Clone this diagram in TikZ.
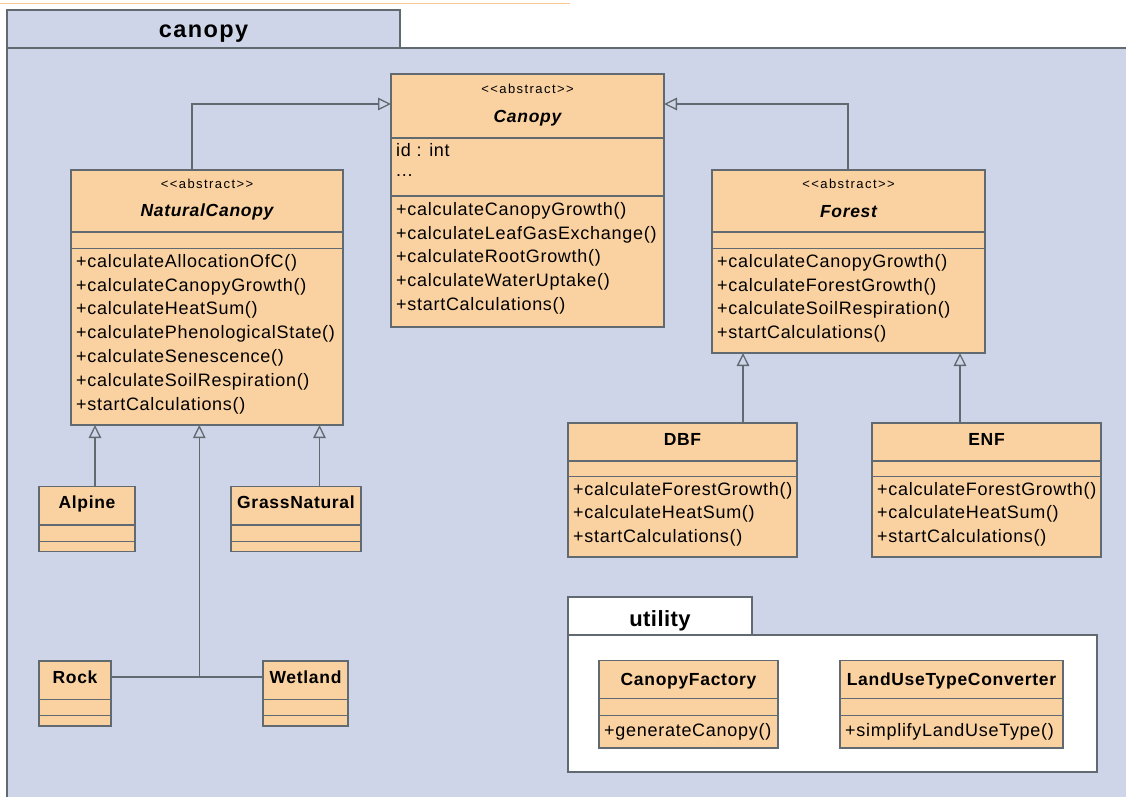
\documentclass[tikz,border=0pt]{standalone}
\usepackage{fontspec}
\setmainfont{Liberation Sans}
\newfontfamily\methfont[LetterSpace=4]{Liberation Sans}
\newfontfamily\stereofont[LetterSpace=11,Ligatures=TeXOff]{Liberation Sans}
\newfontfamily\bigtitlefont[LetterSpace=6]{Liberation Sans}
\newfontfamily\smalltitlefont[LetterSpace=2]{Liberation Sans}
\usetikzlibrary{arrows.meta}
\definecolor{pkgbg}{RGB}{207,213,232}
\definecolor{clsfill}{RGB}{250,209,160}
\definecolor{edgec}{RGB}{96,106,112}
\definecolor{topline}{RGB}{248,200,150}
\begin{document}
\begin{tikzpicture}[x=1pt,y=-1pt,
  cls/.style={draw=edgec, fill=clsfill, line width=1.3pt, outer sep=0pt, inner sep=0pt, anchor=north west},
  pkg/.style={draw=edgec, line width=1.3pt},
  div/.style={draw=edgec, line width=1.3pt},
  meth/.style={anchor=base west, inner sep=0pt, font=\methfont\fontsize{18}{20}\selectfont},
  cname/.style={anchor=base, inner sep=0pt, font=\methfont\fontsize{17.5}{20}\selectfont\bfseries},
  aname/.style={anchor=base, inner sep=0pt, font=\methfont\fontsize{17.5}{20}\selectfont\bfseries\itshape},
  stereo/.style={anchor=base, inner sep=0pt, font=\stereofont\fontsize{13}{15}\selectfont},
  bigtitle/.style={anchor=base, inner sep=0pt, font=\bigtitlefont\fontsize{23.5}{26}\selectfont\bfseries},
  smalltitle/.style={anchor=base, inner sep=0pt, font=\smalltitlefont\fontsize{22}{24}\selectfont\bfseries},
  gen/.style={draw=edgec, line width=1.3pt, -{Triangle[open, length=13pt, width=12.5pt]}},
  assoc/.style={draw=edgec, line width=1.3pt}
]
\useasboundingbox (0,0) rectangle (1126,796);
\clip (0,0) rectangle (1126,796);
\fill[white] (0,0) rectangle (1126,796);
\draw[topline, line width=1.5pt] (0,3.5) -- (570,3.5);

% ---------- package canopy ----------
\draw[pkg, fill=pkgbg] (7,48) rectangle (1140,810);
\node[pkg, fill=pkgbg, minimum width=393, minimum height=38, anchor=north west, outer sep=0pt, inner sep=0pt] (canopytab) at (7,10) {};
\node[bigtitle] (canopytitle) at ([yshift=-27.5]canopytab.north) {canopy};

% ---------- Canopy ----------
\node[cls, minimum width=273, minimum height=253] (canopy) at (391,74) {};
\draw[div] ([yshift=-64]canopy.north west) -- ([yshift=-64]canopy.north east);
\draw[div] ([yshift=-122]canopy.north west) -- ([yshift=-122]canopy.north east);
\node[stereo] (canopy-st) at ([yshift=-19.3]canopy.north) {<<abstract>>};
\node[aname] (canopy-nm) at ([yshift=-48.7]canopy.north) {Canopy};
\node[meth] (canopy-a1) at ([xshift=5, yshift=-82]canopy.north west) {id : int};
\node[meth] (canopy-a2) at ([xshift=5, yshift=-102]canopy.north west) {...};
\foreach \t [count=\i] in {+calculateCanopyGrowth(),+calculateLeafGasExchange(),+calculateRootGrowth(),+calculateWaterUptake(),+startCalculations()}
  \node[meth] (canopy-m\i) at ([xshift=5, yshift={-141.7-23.6*(\i-1)}]canopy.north west) {\t};

% ---------- NaturalCanopy ----------
\node[cls, minimum width=272, minimum height=255] (natural) at (71,170) {};
\draw[div] ([yshift=-62]natural.north west) -- ([yshift=-62]natural.north east);
\draw[div] ([yshift=-78.7]natural.north west) -- ([yshift=-78.7]natural.north east);
\node[stereo] (natural-st) at ([yshift=-18.3]natural.north) {<<abstract>>};
\node[aname] (natural-nm) at ([yshift=-46.7]natural.north) {NaturalCanopy};
\foreach \t [count=\i] in {+calculateAllocationOfC(),+calculateCanopyGrowth(),+calculateHeatSum(),+calculatePhenologicalState(),+calculateSenescence(),+calculateSoilRespiration(),+startCalculations()}
  \node[meth] (natural-m\i) at ([xshift=5, yshift={-97.3-23.8*(\i-1)}]natural.north west) {\t};

% ---------- Forest ----------
\node[cls, minimum width=273, minimum height=183] (forest) at (712,170) {};
\draw[div] ([yshift=-62]forest.north west) -- ([yshift=-62]forest.north east);
\draw[div] ([yshift=-78.7]forest.north west) -- ([yshift=-78.7]forest.north east);
\node[stereo] (forest-st) at ([yshift=-18.3]forest.north) {<<abstract>>};
\node[aname] (forest-nm) at ([yshift=-47.3]forest.north) {Forest};
\foreach \t [count=\i] in {+calculateCanopyGrowth(),+calculateForestGrowth(),+calculateSoilRespiration(),+startCalculations()}
  \node[meth] (forest-m\i) at ([xshift=5, yshift={-97.3-23.7*(\i-1)}]forest.north west) {\t};

% ---------- DBF / ENF ----------
\node[cls, minimum width=229, minimum height=134] (dbf) at (568,423) {};
\draw[div] ([yshift=-38]dbf.north west) -- ([yshift=-38]dbf.north east);
\draw[div] ([yshift=-53.7]dbf.north west) -- ([yshift=-53.7]dbf.north east);
\node[cname] (dbf-nm) at ([yshift=-22]dbf.north) {DBF};
\foreach \t [count=\i] in {+calculateForestGrowth(),+calculateHeatSum(),+startCalculations()}
  \node[meth] (dbf-m\i) at ([xshift=5, yshift={-72.5-23.3*(\i-1)}]dbf.north west) {\t};

\node[cls, minimum width=229, minimum height=134] (enf) at (872,423) {};
\draw[div] ([yshift=-38]enf.north west) -- ([yshift=-38]enf.north east);
\draw[div] ([yshift=-53.7]enf.north west) -- ([yshift=-53.7]enf.north east);
\node[cname] (enf-nm) at ([yshift=-22]enf.north) {ENF};
\foreach \t [count=\i] in {+calculateForestGrowth(),+calculateHeatSum(),+startCalculations()}
  \node[meth] (enf-m\i) at ([xshift=5, yshift={-72.5-23.3*(\i-1)}]enf.north west) {\t};

% ---------- small classes ----------
\node[cls, minimum width=96, minimum height=65] (alpine) at (39,486.5) {};
\draw[div] ([yshift=-38.5]alpine.north west) -- ([yshift=-38.5]alpine.north east);
\draw[div] ([yshift=-55]alpine.north west) -- ([yshift=-55]alpine.north east);
\node[cname] (alpine-nm) at ([yshift=-21.8]alpine.north) {Alpine};

\node[cls, minimum width=130, minimum height=65] (grass) at (231,486.5) {};
\draw[div] ([yshift=-38.5]grass.north west) -- ([yshift=-38.5]grass.north east);
\draw[div] ([yshift=-55]grass.north west) -- ([yshift=-55]grass.north east);
\node[cname] (grass-nm) at ([yshift=-21.8]grass.north) {GrassNatural};

\node[cls, minimum width=72, minimum height=65] (rock) at (39,661) {};
\draw[div] ([yshift=-38.3]rock.north west) -- ([yshift=-38.3]rock.north east);
\draw[div] ([yshift=-54.3]rock.north west) -- ([yshift=-54.3]rock.north east);
\node[cname] (rock-nm) at ([yshift=-22.3]rock.north) {Rock};

\node[cls, minimum width=85, minimum height=65] (wetland) at (263,661) {};
\draw[div] ([yshift=-38.3]wetland.north west) -- ([yshift=-38.3]wetland.north east);
\draw[div] ([yshift=-54.3]wetland.north west) -- ([yshift=-54.3]wetland.north east);
\node[cname] (wetland-nm) at ([yshift=-22.3]wetland.north) {Wetland};

% ---------- package utility ----------
\draw[pkg, fill=white] (568,635) rectangle (1097,772);
\node[pkg, fill=white, minimum width=184, minimum height=38, anchor=north west, outer sep=0pt, inner sep=0pt] (utiltab) at (568,597) {};
\node[smalltitle] (utiltitle) at ([yshift=-29.5]utiltab.north) {utility};

\node[cls, minimum width=179, minimum height=87.5] (factory) at (599,660.5) {};
\draw[div] ([yshift=-38.2]factory.north west) -- ([yshift=-38.2]factory.north east);
\draw[div] ([yshift=-55]factory.north west) -- ([yshift=-55]factory.north east);
\node[cname] (factory-nm) at ([yshift=-24.5]factory.north) {CanopyFactory};
\node[meth] (factory-m1) at ([xshift=5, yshift=-76]factory.north west) {+generateCanopy()};

\node[cls, minimum width=223, minimum height=87.5] (converter) at (840,660.5) {};
\draw[div] ([yshift=-38.2]converter.north west) -- ([yshift=-38.2]converter.north east);
\draw[div] ([yshift=-55]converter.north west) -- ([yshift=-55]converter.north east);
\node[cname] (converter-nm) at ([yshift=-24.5]converter.north) {LandUseTypeConverter};
\node[meth] (converter-m1) at ([xshift=5, yshift=-76]converter.north west) {+simplifyLandUseType()};

% ---------- connectors ----------
\coordinate (topy) at (0,104);
\coordinate (nx) at (192,0);
\coordinate (fx) at (848,0);
\coordinate (ax) at (95,0);
\coordinate (gx) at (319.5,0);
\coordinate (junction) at (199.3,677);
\coordinate (dx) at (743,0);
\coordinate (ex) at (960,0);

\draw[gen] (natural.north -| nx) |- (canopy.west |- topy);
\draw[gen] (forest.north -| fx) |- (canopy.east |- topy);
\draw[gen] (alpine.north -| ax) -- (natural.south -| ax);
\draw[gen] (grass.north -| gx) -- (natural.south -| gx);
\draw[assoc] (rock.east |- junction) -- (wetland.west |- junction);
\draw[gen] (junction) -- (natural.south -| junction);
\draw[gen] (dbf.north -| dx) -- (forest.south -| dx);
\draw[gen] (enf.north -| ex) -- (forest.south -| ex);
\end{tikzpicture}
\end{document}
